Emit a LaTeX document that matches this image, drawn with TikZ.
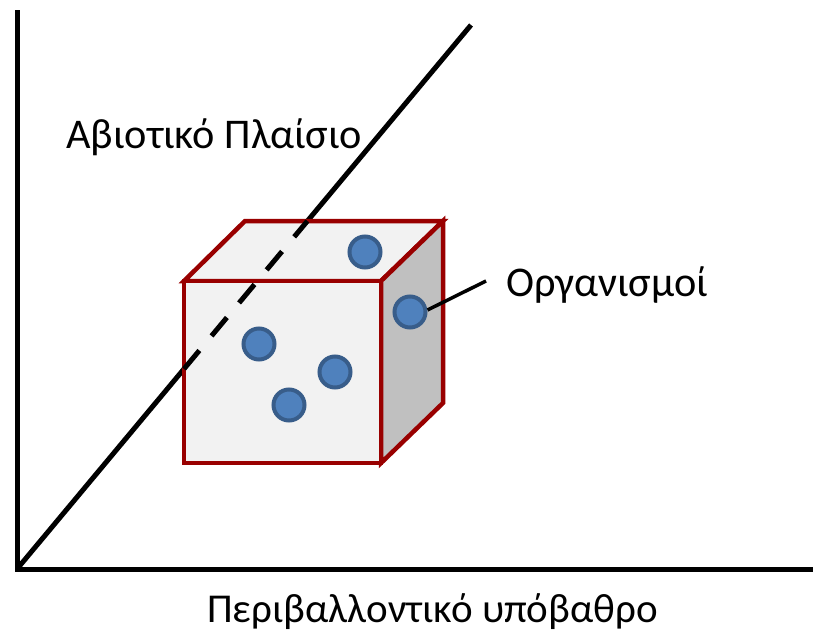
\documentclass[tikz,border=0pt]{standalone}
\usepackage{fontspec}
\setmainfont{Carlito}
\usepackage{xcolor}
\usetikzlibrary{positioning,calc}

\definecolor{cubered}{RGB}{153,0,0}
\definecolor{frontgray}{RGB}{242,242,242}
\definecolor{sidegray}{RGB}{192,192,192}
\definecolor{orgfill}{RGB}{79,129,189}
\definecolor{orgborder}{RGB}{56,93,138}

\begin{document}
\begin{tikzpicture}[
    x=1pt, y=-1pt,
    axis/.style={line width=5pt},
    face/.style={draw=cubered, line width=4.5pt, line join=miter},
    org/.style={circle, draw=orgborder, fill=orgfill, line width=4pt, minimum size=31pt, inner sep=0pt},
    caption/.style={font=\fontsize{42.3}{48}\selectfont, inner sep=0pt, anchor=base west}
]
    \useasboundingbox[fill=white] (0,0) rectangle (813,632);

    % axes and abiotic line
    \coordinate (top) at (17,10);
    \coordinate (origin) at (17,569);
    \coordinate (right) at (813,569);
    \coordinate (far) at (471,25);
    \draw[axis, line join=miter] (top) -- (origin) -- (right);
    \draw[axis] (origin) -- (far);

    % cube
    \coordinate (fbl) at (184,463);
    \coordinate (fbr) at (381,463);
    \coordinate (ftr) at (381,281);
    \coordinate (ftl) at (184,281);
    \coordinate (btl) at (245,221);
    \coordinate (btr) at (443,221);
    \coordinate (bbr) at (443,403);
    \filldraw[face, fill=frontgray] (ftl) -- (btl) -- (btr) -- (ftr) -- cycle;
    \filldraw[face, fill=sidegray] (ftr) -- (btr) -- (bbr) -- (fbr) -- cycle;
    \filldraw[face, fill=frontgray] (fbl) rectangle (ftr);

    % hidden part of the line
    \coordinate (enter) at ($(origin)!0.3678!(far)$);
    \coordinate (leave) at ($(origin)!0.6397!(far)$);
    \draw[axis, dash pattern=on 24pt off 19pt] (enter) -- (leave);

    % organisms
    \node[org] (org1) at (365,252) {};
    \node[org] (org2) at (410,312) {};
    \node[org] (org3) at (259,344) {};
    \node[org] (org4) at (335,372) {};
    \node[org] (org5) at (289,405) {};

    % labels
    \node[caption] (abiotic) at (66,148) {Αβιοτικό Πλαίσιο};
    \node[caption] (organisms) at (506,296) {Οργανισμοί};
    \node[caption, font=\fontsize{41}{48}\selectfont] (background) at (207,622) {Περιβαλλοντικό υπόβαθρο};
    \coordinate (lead) at (486,281);
    \draw[line width=3.5pt] (org2.east) ++(0,-2) -- (lead);
\end{tikzpicture}
\end{document}
